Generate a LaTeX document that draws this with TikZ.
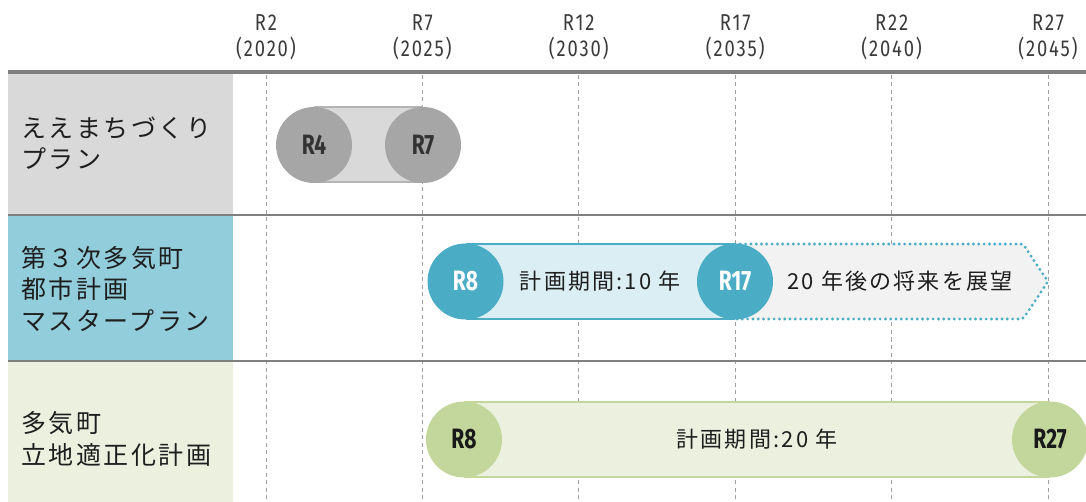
\documentclass[tikz,border=0pt]{standalone}
\usepackage{fontspec}
\setmainfont{Noto Sans CJK JP}
\newfontfamily\rowfont[LetterSpace=10]{Noto Sans CJK JP}
\newfontfamily\barfont[LetterSpace=10]{Noto Sans CJK JP}
\newfontfamily\yearfont[FakeStretch=0.8,LetterSpace=8]{Fira Sans}
\newfontfamily\markfont[FakeStretch=0.75]{Fira Sans}
\usetikzlibrary{positioning,calc}

\definecolor{RuleGray}{HTML}{7F7F7F}
\definecolor{GridGray}{HTML}{A0A0A0}
\definecolor{HeadText}{HTML}{3A3A3A}
\definecolor{LabelText}{HTML}{1E1E1E}
\definecolor{PlanGray}{HTML}{D9D9D9}
\definecolor{PlanLine}{HTML}{B4B4B4}
\definecolor{PlanDark}{HTML}{A6A6A6}
\definecolor{MasterBlue}{HTML}{92CDDC}
\definecolor{MasterDark}{HTML}{4BACC6}
\definecolor{MasterLight}{HTML}{DAEEF3}
\definecolor{OutlookGray}{HTML}{F2F2F2}
\definecolor{SiteGreen}{HTML}{EBF1DE}
\definecolor{SiteDark}{HTML}{C3D69B}

\tikzset{
    yearlabel/.style={align=center, inner sep=0, text=HeadText, font=\yearfont\fontsize{23}{26}\selectfont},
    rowlabel/.style={anchor=west, align=left, inner sep=0, text=LabelText, font=\rowfont\fontsize{25}{31.5}\selectfont},
    gridline/.style={GridGray, dashed, dash pattern=on 4pt off 3.5pt, line width=1pt},
    milestone/.style={circle, minimum size=76pt, inner sep=0, font=\markfont\bfseries\fontsize{28}{28}\selectfont},
    bartext/.style={inner sep=0, text=LabelText, font=\barfont\fontsize{22}{22}\selectfont}
}

\begin{document}
\begin{tikzpicture}[x=1pt,y=-1pt]
            \useasboundingbox (0,0) rectangle (1086,502);

            \fill[PlanGray] (8,74) rectangle (233,214);
            \fill[MasterBlue] (8,216) rectangle (233,360);
            \fill[SiteGreen] (8,362) rectangle (233,502);

            % years
            \foreach \i in {0,...,5}{
                \pgfmathsetmacro{\xx}{266+156.4*\i}
                \pgfmathtruncatemacro{\rr}{2+5*\i}
                \pgfmathtruncatemacro{\yy}{2020+5*\i}
                \node[yearlabel] (year\i) at (\xx,37) {R\rr\\(\yy)};
                \draw[gridline] (\xx,75) -- (\xx,502);
            }

            \draw[line width=3.5pt,RuleGray] (8,72) -- (1086,72);
            \draw[line width=2pt,RuleGray] (8,215) -- (1086,215);
            \draw[line width=2pt,RuleGray] (8,361) -- (1086,361);

            \node[rowlabel] (plan) at (21,143) {ええまちづくり\\プラン};
            \node[rowlabel] (master) at (21,289) {第３次多気町\\都市計画\\マスタープラン};
            \node[rowlabel] (siting) at (21,439) {多気町\\立地適正化計画};

            % R4 - R7
            \coordinate (P1) at (314,145);
            \coordinate (P2) at (423,145);
            \fill[PlanGray] ($(P1) + (0,-37.5)$) rectangle ($(P2) + (0,37.5)$);
            \draw[PlanLine,line width=2pt] ($(P1) + (0,-37.5)$) -- ($(P2) + (0,-37.5)$) ($(P1) + (0,37.5)$) -- ($(P2) + (0,37.5)$);
            \node[milestone,fill=PlanDark,text=black!80] (planR4) at (P1) {R4};
            \node[milestone,fill=PlanDark,text=black!80] (planR7) at (P2) {R7};

            % R8 - R17, then outlook
            \coordinate (P1) at (465.5,281.5);
            \coordinate (P2) at (735,281.5);
            \coordinate (P3) at (1048,281.5);
            \filldraw[fill=OutlookGray,draw=MasterDark,line width=3.2pt,line cap=round,dash pattern=on 0pt off 5.3pt,rounded corners=2pt]
                ($(P2) + (0,-37.5)$) -- ($(P3) + (-25,-37.5)$) -- (P3) -- ($(P3) + (-25,37.5)$) -- ($(P2) + (0,37.5)$);
            \fill[MasterLight] ($(P1) + (0,-38)$) rectangle ($(P2) + (0,38)$);
            \draw[MasterDark,line width=2.5pt] ($(P1) + (0,-37.5)$) -- ($(P2) + (0,-37.5)$) ($(P1) + (0,37.5)$) -- ($(P2) + (0,37.5)$);
            \node[milestone,fill=MasterDark,text=white] (masterR8) at (P1) {R8};
            \node[milestone,fill=MasterDark,text=white] (masterR17) at (P2) {R17};
            \path (masterR8) -- (masterR17) node[midway,bartext] (term10) {計画期間:10 年};
            \node[bartext,right=14pt of masterR17] (outlook) {20 年後の将来を展望};

            % R8 - R27
            \coordinate (P1) at (464,439.5);
            \coordinate (P2) at (1050,439.5);
            \fill[SiteGreen] ($(P1) + (0,-38)$) rectangle ($(P2) + (0,38)$);
            \draw[SiteDark,line width=2.5pt] ($(P1) + (0,-37.5)$) -- ($(P2) + (0,-37.5)$) ($(P1) + (0,37.5)$) -- ($(P2) + (0,37.5)$);
            \node[milestone,fill=SiteDark,text=black!90] (siteR8) at (P1) {R8};
            \node[milestone,fill=SiteDark,text=black!90] (siteR27) at (P2) {R27};
            \path (siteR8) -- (siteR27) node[midway,bartext] (term20) {計画期間:20 年};

\end{tikzpicture}
\end{document}
